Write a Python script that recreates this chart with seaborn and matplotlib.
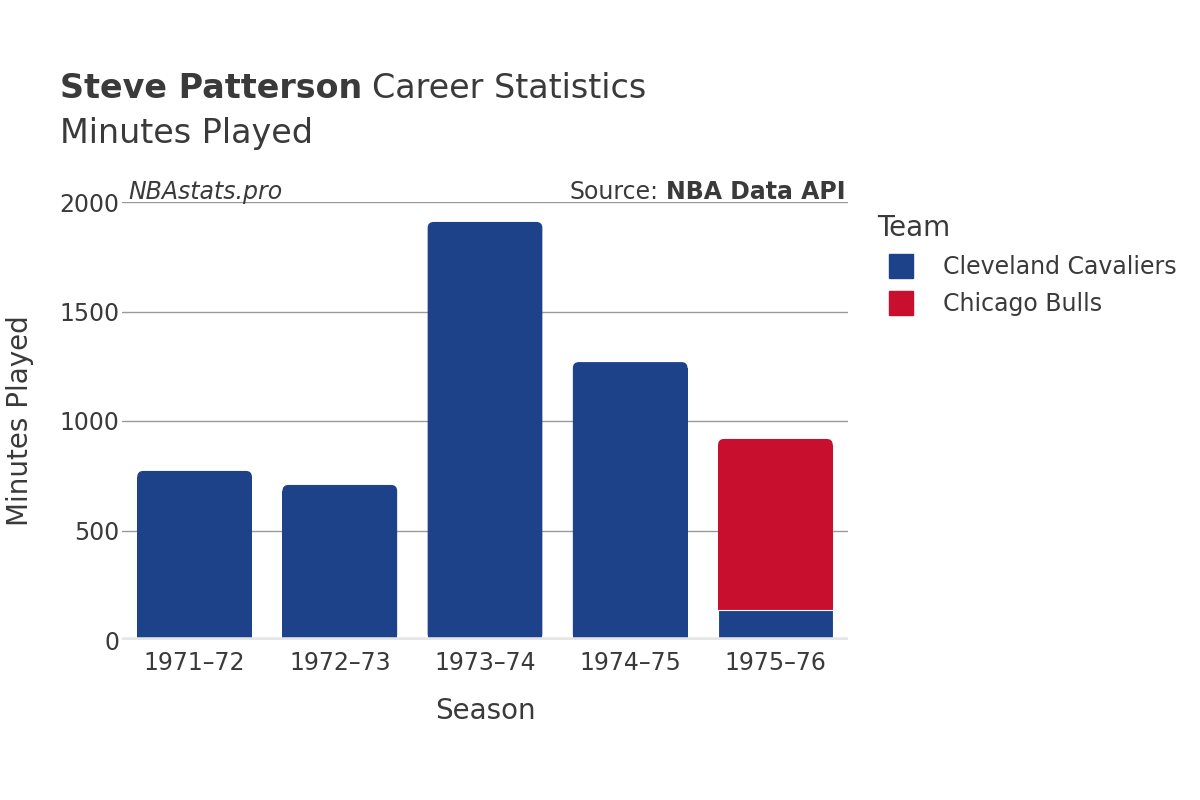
import pandas as pd
import matplotlib.pyplot as plt
import seaborn as sns
from matplotlib.patches import FancyBboxPatch
from matplotlib.lines import Line2D

# Data
seasons = ["1971–72", "1972–73", "1973–74", "1974–75", "1975–76"]
cavaliers = [772, 708, 1909, 1269, 138]
bulls = [0, 0, 0, 0, 780]
teams = ["Cleveland Cavaliers", "Chicago Bulls"]
team_colors = ["#1D428A", "#C8102E"]

df = pd.DataFrame({"Season": seasons, "CLE": cavaliers, "CHI": bulls})
df["Total"] = df["CLE"] + df["CHI"]

sns.set_style("white")
plt.rcParams["font.family"] = ["DejaVu Sans"]
text_col = "#3a3a3a"

fig = plt.figure(figsize=(12, 8), dpi=100)
ax = fig.add_axes([122 / 1200, 160 / 800, 726 / 1200, 438 / 800])

# stacked bars: total in Bulls colour, Cavaliers drawn over it
sns.barplot(data=df, x="Season", y="Total", color=team_colors[1], width=0.79,
            saturation=1, linewidth=0, ax=ax, zorder=3)
n_top = len(ax.patches)
sns.barplot(data=df, x="Season", y="CLE", color=team_colors[0], width=0.79,
            saturation=1, linewidth=0, ax=ax, zorder=4)

# rounded top corners on the topmost segment of each bar
px_x = 726 / 5.0
px_y = 438 / 2000.0
r = 6 / px_x
aspect = px_x / px_y
r_y = r * aspect
top_patches = list(ax.patches[:n_top])
cle_patches = list(ax.patches[n_top:])
for i, (tp, cp) in enumerate(zip(top_patches, cle_patches)):
    if df["CHI"][i] > 0:
        bar = tp
        cp.set_edgecolor("white")
        cp.set_linewidth(0.8)
    else:
        bar = cp
        tp.set_visible(False)
    x0, w, h = bar.get_x(), bar.get_width(), bar.get_height()
    bar.set_height(h - r_y)
    rounded = FancyBboxPatch((x0, 0), w, h,
                             boxstyle=f"round,pad=0,rounding_size={r}",
                             mutation_aspect=aspect,
                             facecolor=bar.get_facecolor(),
                             edgecolor="none", zorder=bar.get_zorder() - 0.5)
    ax.add_patch(rounded)

ax.set_xlim(-0.5, 4.5)
ax.set_ylim(0, 2000)
ax.set_yticks([0, 500, 1000, 1500, 2000])
ax.yaxis.grid(True, color="#999999", linewidth=1, zorder=0)
ax.axhline(0, color="#e6e6e6", linewidth=4, zorder=5)
for s in ax.spines.values():
    s.set_visible(False)
ax.tick_params(axis="both", length=0, labelsize=17, labelcolor=text_col)
ax.tick_params(axis="x", pad=8)
ax.tick_params(axis="y", pad=2)
ax.set_xlabel("Season", fontsize=20, color=text_col, labelpad=16)
ax.set_ylabel("Minutes Played", fontsize=20, color=text_col, labelpad=18)

# titles
t1 = fig.text(60 / 1200, 1 - 89 / 800, "Steve Patterson", fontsize=24,
              fontweight="bold", color=text_col, va="center")
fig.canvas.draw()
bb = t1.get_window_extent()
fig.text(bb.x1 / 1200 + 0.008, 1 - 89 / 800, "Career Statistics", fontsize=24,
         color=text_col, va="center")
fig.text(60 / 1200, 1 - 134 / 800, "Minutes Played", fontsize=24,
         color=text_col, va="center")

fig.text(128 / 1200, 1 - 192 / 800, "NBAstats.pro", fontsize=17,
         style="italic", color=text_col, va="center")
src = fig.text(845 / 1200, 1 - 192 / 800, "NBA Data API", fontsize=17,
               fontweight="bold", color=text_col, va="center", ha="right")
fig.canvas.draw()
sb = src.get_window_extent()
fig.text(sb.x0 / 1200 - 0.006, 1 - 192 / 800, "Source:", fontsize=17,
         color=text_col, va="center", ha="right")

# legend
handles = [Line2D([], [], marker="s", linestyle="", markersize=17,
                  markerfacecolor=c, markeredgecolor=c)
           for c in team_colors]
leg = fig.legend(handles, teams, title="Team", loc="upper left",
                 bbox_to_anchor=(856 / 1200, 1 - 193 / 800), frameon=False,
                 fontsize=17, title_fontsize=20, handletextpad=0.8,
                 labelspacing=0.55, labelcolor=text_col)
leg.get_title().set_color(text_col)
leg._legend_box.align = "left"

fig.savefig("out.png", dpi=100)
